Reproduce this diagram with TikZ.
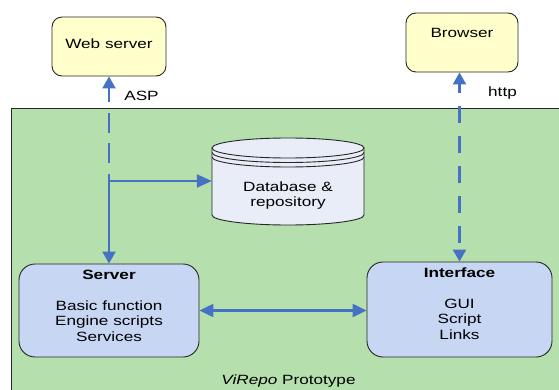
\documentclass[tikz,border=0pt]{standalone}
\usepackage{fontspec}
\setmainfont{Liberation Sans}[FakeStretch=1.28]
\usetikzlibrary{arrows.meta}
\definecolor{bggreen}{RGB}{181,223,173}
\definecolor{boxyellow}{RGB}{255,255,204}
\definecolor{boxblue}{RGB}{199,214,242}
\definecolor{cylfill}{RGB}{232,237,248}
\definecolor{arrowblue}{RGB}{70,114,196}
\tikzset{
  lbl/.style={inner sep=0pt, font=\fontsize{13.4pt}{15.5pt}\selectfont},
  box/.style={lbl, draw=black!85, line width=0.9pt},
  ybox/.style={box, fill=boxyellow, rounded corners=10pt, text height=9.5pt},
  bbox/.style={box, fill=boxblue, rounded corners=16pt, align=center},
  conn/.style={draw=arrowblue, line width=2.3pt},
  vtip/.style={-{Triangle[length=12pt,width=13pt]}},
  vboth/.style={{Triangle[length=12pt,width=13pt]}-{Triangle[length=12pt,width=13pt]}},
  hboth/.style={{Triangle[length=14pt,width=13pt]}-{Triangle[length=14pt,width=13pt]}},
  htip/.style={-{Triangle[length=15pt,width=13pt]}},
  cyl/.style={draw=black!85, line width=0.9pt, fill=cylfill},
}
\begin{document}
\begin{tikzpicture}[x=1pt,y=-1pt]
\useasboundingbox (0,0) rectangle (559,390);
% prototype area
\draw[fill=bggreen, draw=black!85, line width=0.8pt] (11,108) rectangle (570,400);
\node[lbl] (proto) at (288.5,381) {\textit{ViRepo} Prototype};

% top boxes
\node[ybox, minimum width=114pt, minimum height=59pt, text depth=5pt] (websrv) at (109,46.5) {Web server};
\node[ybox, minimum width=112pt, minimum height=59pt, text depth=19pt] (browser) at (462,42.5) {Browser};

% database cylinder
\draw[cyl] (212,148) -- (212,215) arc[start angle=180, end angle=0, x radius=76, y radius=10] -- (364,148) -- cycle;
\draw[cyl] (288,148) ellipse [x radius=76, y radius=10];
\draw[draw=black!85, line width=0.9pt] (212,152.5) arc[start angle=180, end angle=0, x radius=76, y radius=10];
\draw[draw=black!85, line width=0.9pt] (212,157) arc[start angle=180, end angle=0, x radius=76, y radius=10];
\node[lbl, align=center, minimum width=152pt] (db) at (288,195.5) {Database \&\\repository};

% server and interface
\node[bbox, minimum width=180pt, minimum height=93pt] (server) at (109,310.5)
  {\textbf{Server}\\[15.5pt]Basic function\\Engine scripts\\Services\\[-6pt]\mbox{}};
\node[bbox, minimum width=185pt, minimum height=95pt] (interface) at (459.5,309.5)
  {\textbf{Interface}\\[15pt]GUI\\Script\\Links\\[-4pt]\mbox{}};

% connectors
\coordinate (jL) at (109,174);
\coordinate (jB) at (109,181);
\draw[conn, vtip, dash pattern=on 20pt off 10.5pt, dash phase=20pt] (jL) -- (websrv.south);
\draw[conn, vtip] (jL) -- (server.north);
\draw[conn, htip] (jB) -- (db.west |- jB);
\draw[conn, vboth, dash pattern=on 17pt off 13pt, dash phase=8pt] (interface.north |- browser.south) -- (interface.north);
\draw[conn, hboth] (server.east) -- (server.east -| interface.west);

\node[lbl] (asp) at (141.5,96) {ASP};
\node[lbl] (http) at (502.5,93) {http};
\end{tikzpicture}
\end{document}
